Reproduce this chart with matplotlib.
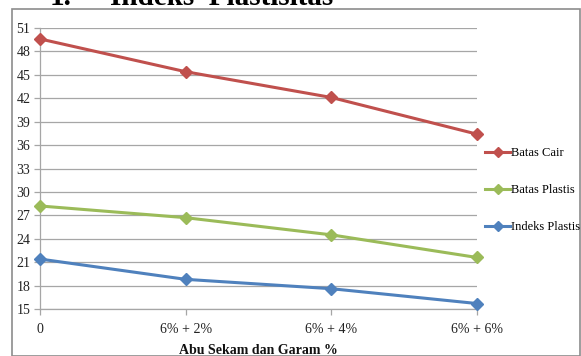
import matplotlib
matplotlib.use("Agg")
import matplotlib.pyplot as plt
from matplotlib.patches import Rectangle

categories = ["0", "6% + 2%", "6% + 4%", "6% + 6%"]
batas_cair = [49.6, 45.4, 42.1, 37.4]
batas_plastis = [28.2, 26.7, 24.5, 21.6]
indeks_plastis = [21.4, 18.8, 17.6, 15.7]
yticks = [15, 18, 21, 24, 27, 30, 33, 36, 39, 42, 45, 48, 51]

plt.rcParams['font.family'] = ['Liberation Serif', 'DejaVu Serif']

fig = plt.figure(figsize=(5.81, 3.56), dpi=100)
W, H = 581, 356
ax = fig.add_axes([40 / W, 1 - 309 / H, (477 - 40) / W, (309 - 28) / H])

x = list(range(len(categories)))
series = [("Batas Cair", batas_cair, "#C0504D"),
          ("Batas Plastis", batas_plastis, "#9BBB59"),
          ("Indeks Plastis", indeks_plastis, "#4F81BD")]
for name, vals, col in series:
    ax.plot(x, vals, color=col, lw=2.2, marker='D', ms=6, label=name, clip_on=False, zorder=3)

ax.set_xlim(0, 3)
ax.set_ylim(15, 51)
ax.set_yticks(yticks)
ax.set_xticks(x)
ax.set_xticklabels(categories)
ax.grid(axis='y', color='#a6a6a6', lw=0.9)
ax.set_axisbelow(True)
for s in ['top', 'right']:
    ax.spines[s].set_visible(False)
for s in ['left', 'bottom']:
    ax.spines[s].set_color('#a6a6a6')
    ax.spines[s].set_linewidth(0.9)
ax.tick_params(axis='both', colors='#a6a6a6', labelcolor='#222222', labelsize=10, length=4, width=0.9)
ax.tick_params(axis='x', pad=6)
ax.tick_params(axis='y', pad=3)

fig.text(258 / W, 1 - 350 / H, "Abu Sekam dan Garam %", ha='center', va='center',
         fontsize=10, fontweight='bold', color='#111111')

leg = fig.legend(loc='center left', bbox_to_anchor=(485 / W, 1 - 190 / H), frameon=False,
                 fontsize=9, handlelength=2.0, handletextpad=0.1, labelspacing=2.0,
                 borderaxespad=0, borderpad=0)
for h in leg.legend_handles:
    h.set_markersize(5)

fig.patches.append(Rectangle((12 / W, 0), 1 - 12 / W - 1.5 / W, 1 - 9 / H, transform=fig.transFigure,
                             fill=False, edgecolor='#8c8c8c', lw=1.2))

fig.text(50 / W, 1 - 5 / H, "1.", ha='left', va='baseline',
         fontsize=21, fontweight='bold', color='black')
fig.text(110 / W, 1 - 5 / H, "Indeks  Plastisitas", ha='left', va='baseline',
         fontsize=21, fontweight='bold', color='black')

fig.savefig("out.png", dpi=100)
